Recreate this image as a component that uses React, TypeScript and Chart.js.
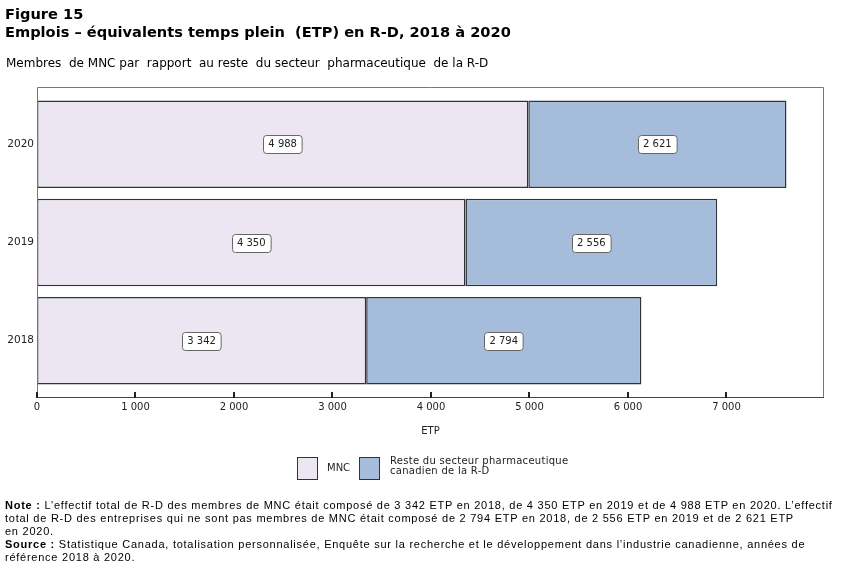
import React, { useEffect, useRef } from "react";
import { Chart, registerables } from "chart.js";

Chart.register(...registerables);

const years = [2018, 2019, 2020];
const mncValues = [3342, 4350, 4988];
const restValues = [2794, 2556, 2621];
const xTicks = [0, 1000, 2000, 3000, 4000, 5000, 6000, 7000];
const seriesNames = ["MNC", "Reste du secteur pharmaceutique canadien de la R-D"];
const seriesColors = ["#ece6f2", "#a6bcdb"];

const fmt = (v: number) => {
  const s = String(Math.round(v));
  return s.replace(/\B(?=(\d{3})+(?!\d))/g, " ");
};

const framePlugin = {
  id: "framePlugin",
  afterDraw(chart: any) {
    const { ctx, chartArea } = chart;
    const { left, right, top, bottom } = chartArea;
    ctx.save();
    ctx.strokeStyle = "#777";
    ctx.lineWidth = 1;
    ctx.beginPath();
    ctx.moveTo(left + 0.5, bottom);
    ctx.lineTo(left + 0.5, top + 0.5);
    ctx.lineTo(right - 0.5, top + 0.5);
    ctx.lineTo(right - 0.5, bottom);
    ctx.stroke();
    ctx.strokeStyle = "#444";
    ctx.beginPath();
    ctx.moveTo(left, bottom - 0.5);
    ctx.lineTo(right, bottom - 0.5);
    ctx.stroke();
    const xs = chart.scales.x;
    ctx.fillStyle = "#222";
    xTicks.forEach((t) => {
      const px = Math.round(xs.getPixelForValue(t));
      ctx.fillRect(px - 1, bottom - 6, 2, 6);
    });
    ctx.font = "10px 'DejaVu Sans'";
    ctx.textAlign = "center";
    ctx.textBaseline = "middle";
    chart.data.datasets.forEach((ds: any, di: number) => {
      const meta = chart.getDatasetMeta(di);
      meta.data.forEach((bar: any, i: number) => {
        const raw = ds.data[i].x;
        const label = fmt(raw);
        const cx = (bar.x + bar.base) / 2;
        const cy = bar.y;
        const w = ctx.measureText(label).width + 10;
        const h = 18;
        const x0 = Math.round(cx - w / 2) + 0.5;
        const y0 = Math.round(cy - h / 2) + 0.5;
        ctx.beginPath();
        ctx.roundRect(x0, y0, w, h, 3);
        ctx.fillStyle = "#ffffff";
        ctx.fill();
        ctx.strokeStyle = "#666";
        ctx.lineWidth = 1;
        ctx.stroke();
        ctx.fillStyle = "#222";
        ctx.fillText(label, cx, cy + 0.5);
      });
    });
    ctx.restore();
  },
};

export default function App() {
  const canvasRef = useRef<HTMLCanvasElement | null>(null);

  useEffect(() => {
    if (!canvasRef.current) return;
    const datasets = [mncValues, restValues].map((vals, si) => ({
      label: seriesNames[si],
      data: vals.map((v, i) => ({ x: v, y: years[i] })),
      backgroundColor: seriesColors[si],
      borderColor: "#30343a",
      borderWidth: 1.5,
      borderSkipped: false,
      barPercentage: 0.89,
      categoryPercentage: 1,
    }));
    const chart = new Chart(canvasRef.current, {
      type: "bar",
      data: { datasets },
      plugins: [framePlugin],
      options: {
        indexAxis: "y",
        responsive: false,
        animation: false,
        devicePixelRatio: 1,
        layout: { padding: { top: 87, left: 0, right: 27, bottom: 140 } },
        plugins: { legend: { display: false }, tooltip: { enabled: false } },
        scales: {
          x: {
            type: "linear",
            stacked: true,
            min: 0,
            max: 7990,
            offset: false,
            grid: { display: false, drawTicks: false },
            border: { display: false },
            afterBuildTicks: (scale: any) => {
              scale.ticks = xTicks.map((v) => ({ value: v }));
            },
            afterFit: (scale: any) => {
              scale.height = 30;
            },
            ticks: {
              padding: 3,
              color: "#222",
              font: { family: "'DejaVu Sans'", size: 10 },
              callback: (v: any) => fmt(Number(v)),
            },
          },
          y: {
            type: "linear",
            stacked: true,
            min: 2017.417,
            max: 2020.583,
            offset: false,
            grid: { display: false, drawTicks: false, offset: false },
            border: { display: false },
            afterBuildTicks: (scale: any) => {
              scale.ticks = years.map((v) => ({ value: v }));
            },
            afterFit: (scale: any) => {
              scale.width = 37;
            },
            ticks: {
              padding: 3,
              color: "#222",
              font: { family: "'DejaVu Sans'", size: 10.5 },
              callback: (v: any) => String(v),
            },
          },
        },
      } as any,
    });
    return () => chart.destroy();
  }, []);

  const txt: React.CSSProperties = { position: "absolute", whiteSpace: "pre", color: "#000" };
  const noteFont: React.CSSProperties = {
    fontFamily: "'Liberation Sans', Arial, sans-serif",
    fontSize: "11px",
    lineHeight: "13px",
    letterSpacing: "0.75px",
  };

  return (
    <div style={{ position: "fixed", left: 0, top: 0, width: 851, height: 568, background: "#fff", overflow: "hidden" }}>
      <canvas ref={canvasRef} width={851} height={568} style={{ position: "absolute", left: 0, top: 0 }} />
      <div style={{ ...txt, left: 5, top: 5, fontFamily: "'DejaVu Sans'", fontWeight: "bold", fontSize: "14.6px", lineHeight: "18px" }}>
        {"Figure 15\nEmplois – équivalents temps plein  (ETP) en R-D, 2018 à 2020"}
      </div>
      <div style={{ ...txt, left: 6, top: 56, fontFamily: "'DejaVu Sans'", fontSize: "12px", lineHeight: "15px" }}>
        {"Membres  de MNC par  rapport  au reste  du secteur  pharmaceutique  de la R-D"}
      </div>
      <div style={{ ...txt, left: 0, width: 861, top: 425, textAlign: "center", fontFamily: "'DejaVu Sans'", fontSize: "10px", lineHeight: "12px", color: "#222" }}>
        {"ETP"}
      </div>
      <div style={{ position: "absolute", left: 297, top: 457, width: 19, height: 21, background: seriesColors[0], border: "1.5px solid #333" }} />
      <div style={{ ...txt, left: 327, top: 462, fontFamily: "'DejaVu Sans'", fontSize: "10px", lineHeight: "11px", color: "#222" }}>{"MNC"}</div>
      <div style={{ position: "absolute", left: 359, top: 457, width: 19, height: 21, background: seriesColors[1], border: "1.5px solid #333" }} />
      <div style={{ ...txt, left: 390, top: 456, fontFamily: "'DejaVu Sans'", fontSize: "10px", lineHeight: "10px", letterSpacing: "0.28px", color: "#222" }}>
        {"Reste du secteur pharmaceutique\ncanadien de la R-D"}
      </div>
      <div style={{ ...txt, ...noteFont, left: 5, top: 499 }}>
        <b>Note :</b>
        {" L’effectif total de R-D des membres de MNC était composé de 3 342 ETP en 2018, de 4 350 ETP en 2019 et de 4 988 ETP en 2020. L’effectif\ntotal de R-D des entreprises qui ne sont pas membres de MNC était composé de 2 794 ETP en 2018, de 2 556 ETP en 2019 et de 2 621 ETP\nen 2020.\n"}
        <b>Source :</b>
        {" Statistique Canada, totalisation personnalisée, Enquête sur la recherche et le développement dans l’industrie canadienne, années de\nréférence 2018 à 2020."}
      </div>
    </div>
  );
}
